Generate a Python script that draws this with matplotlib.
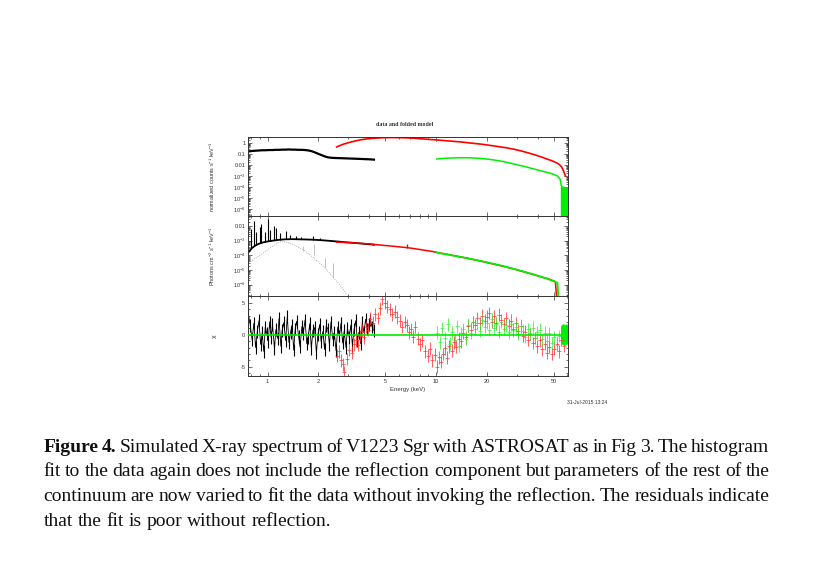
import matplotlib
matplotlib.use('Agg')
import matplotlib.pyplot as plt
from matplotlib.ticker import FixedLocator, LogLocator, MultipleLocator, NullFormatter

plt.rcParams['font.family'] = 'Liberation Sans'
plt.rcParams['mathtext.fontset'] = 'custom'
plt.rcParams['mathtext.rm'] = 'Liberation Sans'

# ---- SXT (black): energies, folded counts, unfolded flux
sxt_e = [0.77, 0.81, 0.85, 0.89, 0.93, 0.97, 1.02, 1.07, 1.12, 1.17, 1.22, 1.28, 1.34, 1.40,
         1.46, 1.53, 1.60, 1.67, 1.75, 1.83, 1.91, 2.00, 2.09, 2.18, 2.28, 2.38, 2.49, 2.60,
         2.72, 2.84, 2.97, 3.10, 3.24, 3.39, 3.54, 3.70, 3.87, 4.04, 4.16, 4.28]
sxt_counts = [0.17, 0.19, 0.20, 0.21, 0.22, 0.22, 0.23, 0.23, 0.24, 0.24, 0.25, 0.25, 0.26, 0.25,
              0.25, 0.24, 0.24, 0.23, 0.21, 0.18, 0.14, 0.105, 0.08, 0.062, 0.05, 0.046, 0.044, 0.043,
              0.042, 0.041, 0.040, 0.039, 0.038, 0.037, 0.036, 0.035, 0.034, 0.033, 0.032, 0.031]
sxt_flux = [1.6e-4, 3.2e-4, 4.8e-4, 6.2e-4, 7.4e-4, 8.3e-4, 9.2e-4, 1.0e-3, 1.08e-3, 1.15e-3,
            1.2e-3, 1.25e-3, 1.27e-3, 1.28e-3, 1.27e-3, 1.25e-3, 1.23e-3, 1.22e-3, 1.2e-3, 1.18e-3,
            1.15e-3, 1.12e-3, 1.08e-3, 1.04e-3, 1.0e-3, 9.6e-4, 9.2e-4, 8.8e-4, 8.4e-4, 8.0e-4,
            7.7e-4, 7.4e-4, 7.1e-4, 6.8e-4, 6.5e-4, 6.2e-4, 5.9e-4, 5.7e-4, 5.5e-4, 5.3e-4]
# emission lines in the unfolded soft spectrum
sxt_line_e = [0.80, 0.83, 0.86, 0.90, 0.92, 0.96, 1.00, 1.04, 1.09, 1.13, 1.19, 1.29, 1.36, 1.47,
              1.58, 1.86, 2.05]
sxt_line_base = [3.0e-4, 4.3e-4, 5.4e-4, 6.7e-4, 7.2e-4, 8.2e-4, 9.0e-4, 9.8e-4, 1.05e-3, 1.1e-3,
                 1.18e-3, 1.25e-3, 1.27e-3, 1.27e-3, 1.24e-3, 1.2e-3, 1.12e-3]
sxt_line_top = [0.006, 0.022, 0.004, 0.009, 0.014, 0.004, 0.030, 0.005, 0.010, 0.007, 0.0035,
                0.0045, 0.0024, 0.0022, 0.0019, 0.0020, 0.0016]

# soft model component (grey dotted)
soft_e = [0.77, 0.85, 0.93, 1.01, 1.09, 1.16, 1.21, 1.30, 1.42, 1.55, 1.67, 1.80, 1.95, 2.08,
          2.19, 2.35, 2.50, 2.65, 2.80, 2.95]
soft_flux = [3.1e-5, 6.5e-5, 1.3e-4, 2.6e-4, 4.8e-4, 7.3e-4, 8.7e-4, 7.8e-4, 5.5e-4, 3.3e-4,
             2.0e-4, 1.0e-4, 4.5e-5, 2.4e-5, 1.4e-5, 5.5e-6, 2.4e-6, 1.1e-6, 5.0e-7, 2.2e-7]
soft_line_e = [1.62, 1.88, 2.20, 2.45]
soft_line_lo = [2.0e-4, 1.0e-4, 1.4e-5, 3.5e-6]
soft_line_hi = [4.5e-4, 6.0e-4, 7.0e-5, 3.0e-5]

# ---- LAXPC (red)
lax_e = [2.57, 2.8, 3.0, 3.3, 3.6, 4.0, 4.4, 4.8, 5.3, 5.8, 6.3, 6.8, 7.4, 8.0, 8.8, 9.6, 10.5,
         11.5, 12.5, 14.0, 15.5, 17.0, 19.0, 21.0, 23.5, 26.0, 29.0, 32.0, 35.0, 38.5, 42.0, 45.5,
         48.5, 51.0, 53.5, 55.5, 57.0, 58.5]
lax_counts = [0.44, 0.75, 1.05, 1.5, 2.0, 2.5, 2.8, 3.0, 3.1, 3.1, 3.0, 2.9, 2.7, 2.5, 2.2, 2.0,
              1.8, 1.6, 1.45, 1.25, 1.05, 0.9, 0.75, 0.6, 0.47, 0.37, 0.27, 0.19, 0.13, 0.085,
              0.055, 0.035, 0.025, 0.018, 0.012, 0.007, 0.003, 0.001]
lax_flux = [8.0e-4, 7.7e-4, 7.4e-4, 7.0e-4, 6.6e-4, 6.0e-4, 5.4e-4, 4.9e-4, 4.4e-4, 4.0e-4,
            3.6e-4, 3.3e-4, 2.9e-4, 2.5e-4, 2.1e-4, 1.8e-4, 1.45e-4, 1.2e-4, 1.0e-4, 7.8e-5,
            6.2e-5, 4.9e-5, 3.7e-5, 2.8e-5, 2.1e-5, 1.6e-5, 1.15e-5, 8.3e-6, 6.2e-6, 4.6e-6,
            3.4e-6, 2.6e-6, 2.0e-6, 1.6e-6, 1e-9, 1e-9, 1e-9, 1e-9]
fe_line_e = [6.7]
fe_line_lo = [3.4e-4]
fe_line_hi = [5.6e-4]

# ---- CZTI (green)
cz_e = [10.1, 11.0, 12.0, 13.0, 14.5, 16.0, 18.0, 20.0, 22.0, 24.5, 27.0, 30.0, 33.0, 36.0,
        39.5, 43.0, 46.5, 50.0, 52.5, 54.5, 55.2]
cz_counts = [0.035, 0.040, 0.043, 0.045, 0.046, 0.045, 0.041, 0.035, 0.029, 0.022, 0.016, 0.011,
             0.0078, 0.0055, 0.0038, 0.0027, 0.002, 0.0014, 0.001, 5e-4, 1.5e-4]
cz_flux = [1.55e-4, 1.27e-4, 1.07e-4, 9.0e-5, 7.1e-5, 5.7e-5, 4.3e-5, 3.3e-5, 2.6e-5, 1.95e-5,
           1.45e-5, 1.05e-5, 7.8e-6, 5.8e-6, 4.2e-6, 3.1e-6, 2.3e-6, 1.7e-6, 1.3e-6, 1e-9, 1e-9]
cz_tail_e = [55.6, 56.1, 56.6, 57.1, 57.6, 58.1, 58.6, 59.1, 59.6, 60.1]
cz_tail_top = [1.2e-4, 1.0e-4, 1.1e-4, 0.9e-4, 1.0e-4, 1.1e-4, 0.95e-4, 1.0e-4, 1.05e-4, 0.9e-4]
cz_tail_chi_lo = [-1.2, -1.5, -1.4, -1.6, -1.3, -1.5, -1.4, -1.2, -1.5, -1.3]
cz_tail_chi_hi = [1.3, 1.5, 1.6, 1.4, 1.5, 1.3, 1.6, 1.4, 1.2, 1.5]

# ---- residuals (chi)
sxt_res_e = [0.77, 0.79, 0.81, 0.83, 0.85, 0.87, 0.89, 0.91, 0.93, 0.95,
             0.97, 0.99, 1.01, 1.03, 1.05, 1.07, 1.10, 1.12, 1.15, 1.17,
             1.20, 1.22, 1.25, 1.28, 1.31, 1.34, 1.37, 1.40, 1.43, 1.46,
             1.49, 1.53, 1.56, 1.60, 1.63, 1.67, 1.71, 1.74, 1.78, 1.82,
             1.86, 1.90, 1.95, 1.99, 2.04, 2.08, 2.13, 2.18, 2.23, 2.28,
             2.33, 2.38, 2.44, 2.49, 2.55, 2.61, 2.67, 2.73, 2.79, 2.85,
             2.92, 2.98, 3.05, 3.12, 3.19, 3.26, 3.34, 3.41, 3.49, 3.57,
             3.65, 3.73, 3.82, 3.90, 3.99, 4.08, 4.17, 4.26]
sxt_chi = [3.2, 1.5, -0.8, 1.8, -2.0, 0.5, 2.2, -1.5, 0.3, -2.6,
           1.2, 0.2, -1.0, 2.0, -0.4, 1.6, -2.2, 0.8, -0.6, 2.5,
           -1.8, 0.6, 1.9, -0.9, 2.8, -1.2, 0.4, 1.5, -2.4, 0.9,
           2.1, -0.3, -1.9, 1.3, 0.2, 2.3, -1.4, -0.5, 1.7, -2.1,
           0.7, 1.1, -2.8, 0.0, 1.6, -1.1, 0.5, -2.3, 1.4, 0.9,
           -1.6, 2.0, -0.7, 0.3, -2.5, 1.2, -0.2, 1.8, -1.3, 0.6,
           -2.0, 1.0, -0.4, 1.5, -1.7, 0.8, 2.2, -0.9, 0.4, -1.4,
           1.9, 0.3, 2.4, 0.9, 1.6, 2.3, 1.2, 0.7]
lax_res_e = [2.57, 2.65, 2.72, 2.80, 2.86, 2.95, 3.05, 3.15, 3.25, 3.35,
             3.45, 3.55, 3.65, 3.75, 3.85, 3.95, 4.05, 4.20, 4.35, 4.50,
             4.65, 4.80, 4.95, 5.10, 5.30, 5.50, 5.70, 5.90, 6.10, 6.30,
             6.50, 6.70, 6.90, 7.10, 7.30, 7.50, 7.80, 8.00, 8.30, 8.60,
             8.90, 9.20, 9.50, 9.80, 10.1, 10.4, 10.7, 11.0, 11.3, 11.6,
             12.0, 12.4, 12.8, 13.2, 13.6, 14.0, 14.5, 15.0, 15.5, 16.0,
             16.5, 17.0, 17.6, 18.2, 18.8, 19.4, 20.0, 20.7, 21.4, 22.1,
             22.8, 23.6, 24.4, 25.2, 26.0, 26.9, 27.8, 28.7, 29.7, 30.7,
             31.7, 32.8, 33.9, 35.0, 36.2, 37.4, 38.6, 39.9, 41.2, 42.6,
             44.0, 45.5, 47.0, 48.5, 50.1, 51.8, 53.5, 55.2, 57.0]
lax_chi = [-3.3, -2.6, -4.0, -4.6, -5.9, -3.8, -2.4, -2.8, -1.5, -0.9,
           -1.6, -0.2, 0.6, -0.4, 1.2, 0.8, 2.5, 1.9, 3.2, 2.6,
           4.1, 5.6, 5.0, 4.4, 4.0, 3.2, 3.6, 2.7, 2.2, 1.2,
           2.0, 1.5, 0.4, 0.9, -0.3, 1.2, -0.6, -1.5, -0.9, -2.6,
           -3.3, -2.2, -4.0, -3.1, -5.0, -3.5, -4.2, -3.0, -2.1, -3.6,
           -1.8, -2.5, -1.2, -1.9, -0.6, -1.0, 0.3, -0.4, 1.4, 0.8,
           2.0, 1.5, 2.6, 1.8, 3.0, 2.2, 2.8, 3.4, 2.0, 2.9,
           1.8, 3.1, 2.3, 1.6, 2.6, 1.4, 2.2, 0.9, 1.8, 0.6,
           1.3, -0.2, 0.5, -0.8, 0.1, -1.3, -0.5, -1.8, -0.9, -2.3,
           -1.4, -2.8, -1.9, -3.0, -2.2, -1.4, -2.6, -0.8, -1.7]
cz_res_e = [10.1, 10.5, 10.9, 11.3, 11.7, 12.1, 12.5, 12.9, 13.3, 13.7,
            14.1, 14.5, 15.0, 15.5, 16.0, 16.5, 17.0, 17.6, 18.2, 18.8,
            19.4, 20.0, 20.7, 21.4, 22.1, 22.8, 23.6, 24.4, 25.2, 26.0,
            26.9, 27.8, 28.7, 29.7, 30.7, 31.7, 32.8, 33.9, 35.0, 36.2,
            37.4, 38.6, 39.9, 41.2, 42.6, 44.0, 45.5, 47.0, 48.5, 50.1,
            51.8, 53.5]
cz_chi = [0.3, -1.2, 1.0, -0.5, 1.6, -1.4, 0.4, -0.9, 1.3, -1.7,
          0.2, 0.9, -0.6, 1.5, 0.3, 2.0, 0.9, 1.8, 0.6, 2.3,
          1.2, 1.9, 0.8, 2.4, 1.1, 1.7, 0.5, 2.0, 0.9, 1.5,
          0.4, 1.6, 0.7, 1.2, 0.1, 1.4, 0.6, -0.3, 0.9, 0.2,
          1.1, -0.5, 0.4, 0.8, -0.7, 0.3, -1.0, 0.2, -1.3, -0.4,
          -1.6, -0.2]

# ---- axis ticks and labels
x_major = [1, 2, 5, 10, 20, 50]
x_major_labels = ['1', '2', '5', '10', '20', '50']
x_minor = [0.8, 0.9, 3, 4, 6, 7, 8, 9, 30, 40, 60]
top_yticks = [1, 0.1, 0.01, 1e-3, 1e-4, 1e-5, 1e-6]
top_ylabels = ['1', '0.1', '0.01', r'$10^{-3}$', r'$10^{-4}$', r'$10^{-5}$', r'$10^{-6}$']
mid_yticks = [0.01, 1e-3, 1e-4, 1e-5, 1e-6]
mid_ylabels = ['0.01', r'$10^{-3}$', r'$10^{-4}$', r'$10^{-5}$', r'$10^{-6}$']
chi_yticks = [-5, 0, 5]
chi_ylabels = ['-5', '0', '5']

caption = [
    "Figure 4. Simulated X-ray spectrum of V1223 Sgr with ASTROSAT as in Fig 3. The histogram",
    "fit to the data again does not include the reflection component but parameters of the rest of the",
    "continuum are now varied to fit the data without invoking the reflection. The residuals indicate",
    "that the fit is poor without reflection.",
]

RED = '#ff0000'
GREEN = '#00ee00'
W, H = 822, 572
fig = plt.figure(figsize=(W / 100, H / 100), dpi=100)


def box(top, bottom):
    return [248 / W, 1 - bottom / H, 320 / W, (bottom - top) / H]


ax1 = fig.add_axes(box(137, 216))
ax2 = fig.add_axes(box(216, 296))
ax3 = fig.add_axes(box(296, 376))

# top: folded counts
ax1.plot(sxt_e, sxt_counts, color='black', lw=1.6)
ax1.plot(lax_e, lax_counts, color=RED, lw=1.2)
ax1.plot(cz_e, cz_counts, color=GREEN, lw=1.1)
ax1.vlines(cz_tail_e, 1e-9, cz_tail_top, color=GREEN, lw=1.6)
ax1.set_yscale('log')
ax1.set_ylim(2.4e-7, 3.5)

# middle: unfolded spectrum
ax2.plot(soft_e, soft_flux, color='#999999', lw=0.6, ls=':')
ax2.vlines(soft_line_e, soft_line_lo, soft_line_hi, color='#aaaaaa', lw=0.5)
ax2.plot(sxt_e, sxt_flux, color='black', lw=1.3)
ax2.vlines(sxt_line_e, sxt_line_base, sxt_line_top, color='black', lw=0.8)
ax2.plot(lax_e, lax_flux, color=RED, lw=1.1)
ax2.vlines(fe_line_e, fe_line_lo, fe_line_hi, color=RED, lw=1.0)
ax2.plot(cz_e, cz_flux, color=GREEN, lw=1.3)
ax2.set_yscale('log')
ax2.set_ylim(1.65e-7, 0.049)

# bottom: residuals
ax3.errorbar(sxt_res_e, sxt_chi, yerr=1, fmt='none', ecolor='black', elinewidth=0.8)
ax3.plot(sxt_res_e, sxt_chi, color='black', lw=0.6)
ax3.errorbar(lax_res_e, lax_chi, yerr=1, fmt='_', color='#ff3030', ms=2.5, mew=0.5,
             elinewidth=0.55)
ax3.errorbar(cz_res_e, cz_chi, yerr=1, fmt='_', color='#33ee33', ms=2.5, mew=0.5,
             elinewidth=0.55)
ax3.vlines(cz_tail_e, cz_tail_chi_lo, cz_tail_chi_hi, color=GREEN, lw=1.8)
ax3.axhline(0, color=GREEN, lw=1.2, zorder=5)
ax3.set_ylim(-6.45, 6.05)

for ax in (ax1, ax2, ax3):
    ax.set_xscale('log')
    ax.set_xlim(0.766, 60.6)
    ax.xaxis.set_major_locator(FixedLocator(x_major))
    ax.xaxis.set_minor_locator(FixedLocator(x_minor))
    ax.xaxis.set_minor_formatter(NullFormatter())
    ax.tick_params(which='both', direction='in', top=True, right=True, width=0.5,
                   colors='#333333', labelsize=4, pad=2)
    ax.tick_params(which='major', length=3)
    ax.tick_params(which='minor', length=1.5)
    for s in ax.spines.values():
        s.set_linewidth(0.7)
        s.set_color('#333333')
    ax.yaxis.set_label_coords(-0.097, 0.5)

for ax in (ax1, ax2):
    ax.tick_params(labelbottom=False)
    ax.yaxis.set_minor_locator(LogLocator(base=10, subs=range(2, 10), numticks=20))
    ax.yaxis.set_minor_formatter(NullFormatter())

ax1.yaxis.set_major_locator(FixedLocator(top_yticks))
ax1.set_yticklabels(top_ylabels)
ax2.yaxis.set_major_locator(FixedLocator(mid_yticks))
ax2.set_yticklabels(mid_ylabels)
ax3.yaxis.set_major_locator(FixedLocator(chi_yticks))
ax3.set_yticklabels(chi_ylabels)
ax3.yaxis.set_minor_locator(MultipleLocator(1))
ax3.set_xticklabels(x_major_labels)

ax1.set_ylabel(r'normalized counts s$^{-1}$ keV$^{-1}$', fontsize=4, color='#333333')
ax2.set_ylabel(r'Photons cm$^{-2}$ s$^{-1}$ keV$^{-1}$', fontsize=4, color='#333333')
ax3.set_ylabel('\u03c7', fontsize=4.5, color='#333333', family='DejaVu Sans')

fig.text(405 / W, 1 - 124 / H, 'data and folded model', fontsize=4.3, family='Liberation Serif',
         weight='bold', ha='center', va='center', color='#333333')
fig.text(408 / W, 1 - 389 / H, 'Energy (keV)', fontsize=4.3, ha='center', va='center',
         color='#333333')
fig.text(587 / W, 1 - 403 / H, '31-Jul-2015 13:24', fontsize=3.6, ha='center', va='center',
         color='#333333')

# caption, justified between x0 and x1 like the printed page
renderer = fig.canvas.get_renderer()
x0, x1 = 43.3, 769.5
baselines = [451.7, 476.5, 501.2, 525.8]
fs = 14
for i, (line, yb) in enumerate(zip(caption, baselines)):
    words = line.split()
    objs = []
    for j, w in enumerate(words):
        bold = (i == 0 and j < 2)
        objs.append(fig.text(0, 1 - yb / H, w, fontsize=fs, family='Liberation Serif',
                             weight='bold' if bold else 'normal', va='baseline', ha='left',
                             color='#111111'))
    widths = [o.get_window_extent(renderer).width for o in objs]
    if i < len(caption) - 1:
        gap = (x1 - x0 - sum(widths)) / (len(words) - 1)
    else:
        gap = fs * 100 / 72 * 0.25
    x = x0
    for o, wd in zip(objs, widths):
        o.set_x(x / W)
        x += wd + gap

fig.savefig('out.png', dpi=100, facecolor='white')
